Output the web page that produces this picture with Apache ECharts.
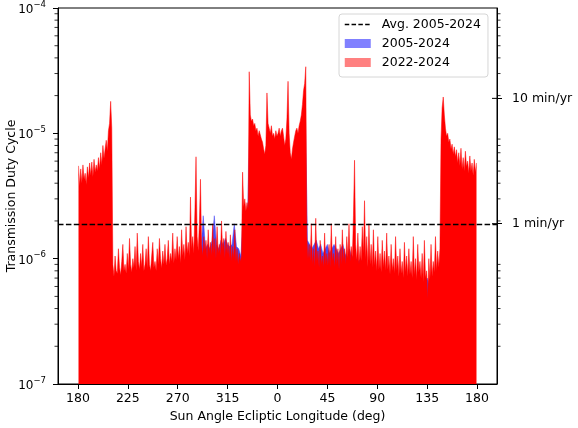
<!DOCTYPE html>
<html><head><meta charset="utf-8">
<script src="https://cdn.jsdelivr.net/npm/echarts@6/dist/echarts.min.js"></script>
<style>html,body{margin:0;padding:0;background:#fff}#c{width:578px;height:428px}</style>
</head><body><div id="c"></div>
<script>
// Sun-angle ecliptic longitude, unwrapped: 180..540 deg (0..180 shown after 360)
const RED_FIRST_DEG = 180;   // 1-degree bins
const BLUE_FIRST_DEG = 180;  // 2-degree bins
// Transmission duty cycle, 2022-2024, in units of 1e-6
const RED_E6 = [
  5.5,3.8,5.2,4.0,5.6,4.3,4.8,3.9,5.4,4.4,
  5.8,4.6,5.9,4.5,6.2,4.9,5.6,5.0,6.4,5.2,
  7.0,5.6,8.0,6.3,7.5,8.8,7.2,10.5,12.0,18.0,
  11.0,0.9,0.72,1.05,0.8,0.76,1.2,0.85,0.74,0.95,
  1.3,0.8,0.9,0.76,1.1,0.82,1.45,0.9,0.78,1.0,
  0.85,1.25,0.8,1.6,0.95,0.82,1.1,0.86,1.3,0.8,
  0.9,1.2,0.84,1.5,0.9,0.8,1.05,1.35,0.85,0.95,
  0.8,1.2,0.9,1.45,1.0,0.84,1.15,0.9,1.3,0.88,
  1.0,1.4,0.9,1.1,0.95,1.6,0.92,1.2,0.98,1.5,
  1.0,1.25,0.92,1.7,1.05,1.3,0.98,1.8,1.1,1.35,
  1.05,3.1,1.2,1.5,1.1,2.4,6.5,1.5,1.15,1.9,
  4.3,1.3,1.05,1.5,1.15,1.4,1.0,1.7,1.1,1.35,
  1.05,1.9,1.1,1.45,1.0,1.8,1.1,1.3,1.05,2.0,
  1.15,1.45,1.0,1.65,1.1,1.35,1.0,1.55,0.95,1.25,
  1.0,1.7,0.95,1.2,0.9,1.1,0.95,1.05,4.9,2.6,
  3.0,2.4,2.8,2.5,31,14,12.5,13,11.5,12,
  10.5,11,9.5,10.5,10.7,9,8.5,7.5,6.8,8,
  21,12,11,10,11.5,9.5,10,9,10.5,9.5,
  10,11,9.5,10.5,11,9.5,8,9,13,26,
  10,7,6.2,7.5,8.5,9.5,10.5,11,10,11.5,
  12.5,14,17,22,25,34,1.5,1.0,1.3,0.95,
  1.9,0.9,1.2,0.85,2.1,0.95,1.15,0.85,1.4,0.9,
  1.05,0.85,1.6,0.9,1.1,0.88,1.3,0.85,1.9,0.95,
  1.1,0.85,1.5,0.9,1.2,0.82,1.3,0.9,1.7,0.95,
  1.2,0.9,1.5,1.0,1.9,0.95,1.25,1.0,2.2,6.1,
  1.3,0.95,1.6,0.9,1.25,0.95,1.8,1.1,2.9,1.0,
  1.5,0.85,1.9,0.9,1.3,0.85,1.7,0.88,1.15,0.8,
  1.5,0.82,1.1,0.78,1.4,0.85,1.15,0.8,1.6,0.82,
  1.05,0.75,1.3,0.8,1.0,0.76,1.5,0.8,1.05,0.72,
  1.2,0.76,0.95,0.7,1.35,0.78,1.05,0.72,1.2,0.75,
  0.95,0.7,1.5,0.74,1.0,0.68,1.3,0.78,0.95,0.7,
  1.1,0.65,1.4,0.7,0.8,0.48,1.0,0.68,1.3,0.72,
  0.95,0.78,1.5,0.8,1.15,0.85,1.2,9,16,19.5,
  14,11,9.5,10,8.5,9,7.5,8.2,6.8,7.8,
  6.5,7.4,5.8,7.0,5.5,7.6,5.2,6.4,5.0,7.2,
  5.4,6.0,4.8,6.6,5.0,5.8,4.6,6.2,4.9,5.8
];
// Transmission duty cycle, 2005-2024, in units of 1e-6 (2-degree bins)
const BLUE_E6 = [
  3.4,3.6,3.8,3.6,3.8,4.0,4.2,4.4,4.6,4.8,
  5.0,5.4,6.0,6.5,9.0,0.6,0.6,0.62,0.63,0.66,
  0.65,0.7,0.68,0.7,0.72,0.7,0.75,0.72,0.7,0.74,
  0.72,0.75,0.76,0.74,0.72,0.76,0.8,0.76,0.78,0.75,
  0.8,0.78,0.82,0.84,0.85,0.88,0.86,0.9,0.92,0.95,
  1.0,1.1,1.05,1.2,1.1,1.2,2.2,1.2,1.3,1.2,
  1.4,2.2,1.3,1.2,1.4,1.3,1.45,1.3,1.25,1.3,
  1.9,1.25,1.2,1.05,2.2,2.0,2.2,12,10,10,
  9,8.5,8,7,6.5,9,9,8.5,8.5,8.5,
  8.5,8.5,8.5,7.5,9,6.5,5.8,7.5,9,9,
  10.5,14,18,1.4,1.3,1.2,1.3,1.4,1.2,1.3,
  1.1,1.2,1.3,1.1,1.2,1.3,1.2,1.1,1.2,1.3,
  1.1,1.0,1.2,1.0,1.1,1.0,0.95,1.0,0.9,1.0,
  0.85,0.9,0.8,0.85,0.8,0.75,0.7,0.78,0.75,0.7,
  0.65,0.72,0.7,0.68,0.65,0.7,0.62,0.7,0.62,0.7,
  0.66,0.6,0.68,0.62,0.66,0.6,0.65,0.7,0.62,0.6,
  0.65,0.7,0.75,1.0,12,10,8.5,7.5,7,6.5,
  6,5.5,5.2,5,4.8,4.8,4.6,4.6,4.4,4.5
];
const AVG_2005_2024 = 1.87e-6;
const X_MIN = 162, X_MAX = 558;
const X_TICKS = [180,225,270,315,360,405,450,495,540];
const X_TICK_LABELS = ['180','225','270','315','0','45','90','135','180'];
const Y_MIN = 1e-7, Y_MAX = 1e-4;
const MINUTES_PER_YEAR = 525960;
const MIN_PER_YR_TICKS = [1, 10];
const MINOR_TICKS = [2e-7,3e-7,4e-7,5e-7,6e-7,7e-7,8e-7,9e-7,
                     2e-6,3e-6,4e-6,5e-6,6e-6,7e-6,8e-6,9e-6,
                     2e-5,3e-5,4e-5,5e-5,6e-5,7e-5,8e-5,9e-5];
const FONT = 'DejaVu Sans';

const redData = RED_E6.map((v, i) => [RED_FIRST_DEG + i + 0.5, v * 1e-6]);
const blueData = BLUE_E6.map((v, i) => [BLUE_FIRST_DEG + 2 * i + 1, v * 1e-6]);
const avgData = [[X_MIN, AVG_2005_2024], [X_MAX, AVG_2005_2024]];
const rightTickLog = MIN_PER_YR_TICKS.map(m => Math.log10(m / MINUTES_PER_YEAR));
const DASH = [5.5, 2.4];

const chart = echarts.init(document.getElementById('c'));
chart.setOption({
  animation: false,
  backgroundColor: '#fff',
  grid: { left: 58, right: 81, top: 8, bottom: 44, outerBoundsMode: 'none', containLabel: false,
          show: true, borderColor: '#000', borderWidth: 1 },
  legend: {
    left: 339, top: 14, orient: 'vertical', itemWidth: 26, itemHeight: 9, itemGap: 4,
    padding: [3, 7, 7, 5], backgroundColor: '#fff', borderColor: '#d6d6d6', borderWidth: 1, borderRadius: 3,
    selectedMode: false,
    textStyle: { fontFamily: FONT, fontSize: 12.5, color: '#000', padding: [0, 0, 0, 6], lineHeight: 15 },
    data: [
      { name: 'Avg. 2005-2024', itemStyle: { opacity: 0 }, lineStyle: { color: '#000', width: 1.5, type: [4.5, 2.3] } },
      { name: '2005-2024', icon: 'rect', itemStyle: { color: '#8080ff', borderWidth: 0 } },
      { name: '2022-2024', icon: 'rect', itemStyle: { color: '#ff8080', borderWidth: 0 } }
    ]
  },
  xAxis: {
    type: 'value', min: X_MIN, max: X_MAX,
    name: 'Sun Angle Ecliptic Longitude (deg)', nameLocation: 'middle', nameGap: 26,
    nameTextStyle: { fontFamily: FONT, fontSize: 12.5, color: '#000' },
    axisLine: { show: true, lineStyle: { color: '#000', width: 1 } },
    axisTick: { show: true, length: 5, customValues: X_TICKS, lineStyle: { color: '#000' } },
    axisLabel: { customValues: X_TICKS, margin: 8, fontFamily: FONT, fontSize: 12.5, color: '#000',
      formatter: v => X_TICK_LABELS[X_TICKS.indexOf(v)] },
    splitLine: { show: false }
  },
  yAxis: [{
    type: 'log', logBase: 10, min: Y_MIN, max: Y_MAX,
    name: 'Transmission Duty Cycle', nameLocation: 'middle', nameGap: 40, nameMoveOverlap: false,
    nameTextStyle: { fontFamily: FONT, fontSize: 12.5, color: '#000' },
    axisLine: { show: true, lineStyle: { color: '#000', width: 1 } },
    axisTick: { show: true, length: 5, lineStyle: { color: '#000' } },
    axisLabel: {
      margin: 12, color: '#000',
      formatter: v => '{b|10}{s|\u2212' + Math.abs(Math.round(Math.log10(v))) + '}',
      rich: {
        b: { fontFamily: FONT, fontSize: 12, color: '#000', lineHeight: 16, verticalAlign: 'bottom' },
        s: { fontFamily: FONT, fontSize: 8.5, color: '#000', lineHeight: 16, verticalAlign: 'top' }
      }
    },
    splitLine: { show: false }
  }, {
    type: 'value', position: 'right', min: Math.log10(Y_MIN), max: Math.log10(Y_MAX),
    axisLine: { show: true, lineStyle: { color: '#000', width: 1 } },
    axisTick: { show: true, length: 5, customValues: rightTickLog, lineStyle: { color: '#000' } },
    axisLabel: { customValues: rightTickLog, margin: 15, fontFamily: FONT, fontSize: 12.5, color: '#000',
      formatter: v => Math.round(Math.pow(10, v) * MINUTES_PER_YEAR) + ' min/yr' },
    splitLine: { show: false }
  }],
  series: [
    {
      type: 'line', name: '2005-2024', data: blueData, symbol: 'none', z: 2,
      color: '#8080ff',
      lineStyle: { width: 0.5, color: '#4a4af2' },
      areaStyle: { color: '#4a4af2', opacity: 1, origin: 'start' }
    },
    {
      type: 'line', name: '2022-2024', data: redData, symbol: 'none', z: 3,
      color: '#ff8080',
      lineStyle: { width: 0.5, color: '#ff0000' },
      areaStyle: { color: '#ff0000', opacity: 1, origin: 'start' }
    },
    {
      type: 'line', name: 'Avg. 2005-2024', data: avgData, symbol: 'none', z: 4, clip: false,
      color: '#000',
      lineStyle: { color: '#000', width: 1.5, type: DASH }
    },
    {
      type: 'custom', name: 'minor ticks', silent: true, clip: false, z: 6,
      data: MINOR_TICKS.map(v => [X_MIN, v]),
      renderItem: (params, api) => {
        const v = api.value(1);
        const l = api.coord([X_MIN, v]);
        const r = api.coord([X_MAX, v]);
        return { type: 'group', children: [
          { type: 'line', shape: { x1: l[0] - 3.5, y1: l[1], x2: l[0], y2: l[1] }, style: { stroke: '#000', lineWidth: 0.8 } },
          { type: 'line', shape: { x1: r[0], y1: r[1], x2: r[0] + 3.5, y2: r[1] }, style: { stroke: '#000', lineWidth: 0.8 } }
        ] };
      }
    },
    {
      type: 'custom', name: 'right major inner', silent: true, clip: false, z: 6,
      data: MIN_PER_YR_TICKS.map(m => [X_MAX, m / MINUTES_PER_YEAR]),
      renderItem: (params, api) => {
        const r = api.coord([X_MAX, api.value(1)]);
        return { type: 'line', shape: { x1: r[0] - 5, y1: r[1], x2: r[0], y2: r[1] }, style: { stroke: '#000', lineWidth: 1 } };
      }
    }
  ]
});
</script></body></html>
